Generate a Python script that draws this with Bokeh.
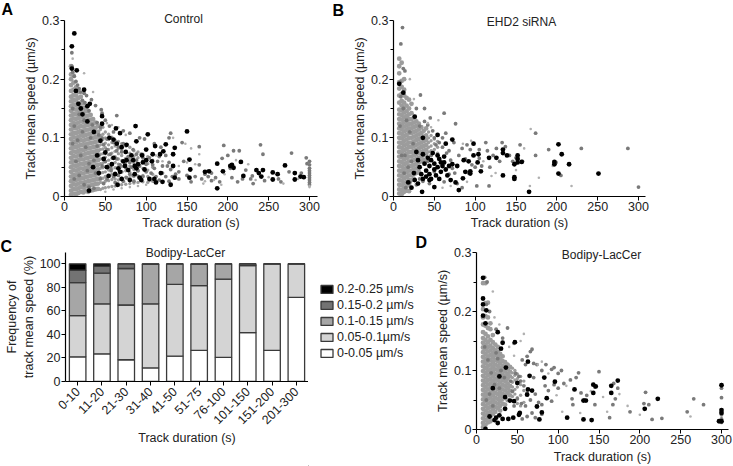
from bokeh.plotting import figure
from bokeh.layouts import column, row
from bokeh.embed import file_html
from bokeh.resources import INLINE
from bokeh.models import (FixedTicker, Range1d, FactorRange, Label, Legend, LegendItem,
                          ColumnDataSource)

FONT = "Liberation Sans"

# Panel C
DURATIONS = ["0-10", "11-20", "21-30", "31-40", "41-50", "51-75", "76-100", "101-150", "151-200", "201-300"]
BIN_0_005 = [21, 23.5, 18.5, 11.5, 21.5, 26.5, 20.5, 41.5, 26.5, 71.5]
BIN_005_01 = [35, 42.5, 46.5, 54.5, 61, 55, 66.5, 57, 73.5, 28.5]
BIN_01_015 = [28, 26, 31, 33.5, 17.5, 18, 13, 1.5, 0, 0]
BIN_015_02 = [10.5, 6, 4, 0.5, 0, 0.5, 0, 0, 0, 0]
BIN_02_025 = [5.5, 2, 0, 0, 0, 0, 0, 0, 0, 0]
BIN_LABELS = ["0-0.05 µm/s", "0.05-0.1µm/s", "0.1-0.15 µm/s", "0.15-0.2 µm/s", "0.2-0.25 µm/s"]
BIN_COLORS = ["#ffffff", "#d4d4d4", "#a6a6a6", "#737373", "#000000"]

# Scatter values: durations in s, speeds in thousandths of µm/s
A_MASS_X = [8, 11, 14, 17, 20, 23, 26, 29, 32, 35, 38, 41, 44, 47, 50, 54, 58, 62, 66, 70, 75, 80, 85, 90, 96, 102, 108]
A_MASS_Y = [
    [3,10,18,26,34,42,50,58,66,74,82,90,98,106,114,122,130,138,146,154,162,170,180,190,200,208,222],
    [5,13,21,29,37,45,53,61,69,77,85,93,101,109,117,125,133,141,149,157,165,173,182,194,206],
    [4,12,20,28,36,44,52,60,68,76,84,92,100,108,116,124,132,140,148,156,164,172,186],
    [6,14,22,30,38,46,54,62,70,78,86,94,102,110,118,126,134,142,150,158,168,178],
    [8,16,24,32,40,48,56,64,72,80,88,96,104,112,120,128,136,144,152,160,170],
    [7,15,23,31,39,47,55,63,71,79,87,95,103,111,119,127,135,143,151,159],
    [9,17,25,33,41,49,57,65,73,81,89,97,105,113,121,129,137,145,152],
    [8,18,26,34,42,50,58,66,74,82,90,98,106,114,122,130,138,146],
    [10,19,27,35,43,51,59,67,75,83,91,99,107,115,123,131,139],
    [11,20,28,36,44,52,60,68,76,84,92,100,108,116,124,132],
    [12,21,29,37,45,53,61,69,77,85,93,101,109,117,126],
    [13,22,30,38,46,54,62,70,78,86,94,102,110,120],
    [12,24,32,40,48,56,64,72,80,88,96,104,114],
    [14,23,31,41,49,57,65,73,81,89,97,106,118],
    [15,26,34,42,51,59,67,75,83,91,100,110],
    [16,27,36,45,54,62,71,80,88,97,106],
    [17,29,38,47,56,65,74,83,92,101],
    [18,30,40,49,58,68,77,86,96],
    [19,28,37,46,55,64,73,82,94],
    [20,31,42,51,61,70,80,90],
    [21,33,44,54,65,75,86],
    [22,32,41,52,63,74,84],
    [23,34,46,57,68,78],
    [24,35,44,55,66,76],
    [25,36,48,60,72],
    [24,34,45,56,68],
    [26,38,50,62],
]
A_DARK = [(9,245),(9,222),(10,212),(12,205),(14,196),(16,190),(20,178),(24,176),(27,172),(33,165),(38,155),(45,148),(46,142),(50,130),(64,138),(55,120),(60,110),(72,112),(80,108),(92,100),(98,98),(130,108),(128,100),(118,84),(110,90),(52,80),(56,72),(60,92),(64,64),(66,84),(70,76),(74,58),(78,68),(82,50),(84,80),(88,62),(90,44),(94,72),(96,34),(100,55),(104,66),(106,40),(110,48),(114,60),(116,28),(120,40),(124,70),(126,52),(128,26),(130,46),(132,34),(136,38),(140,42),(144,92),(146,60),(150,36),(160,34),(165,54),(165,85),(168,30),(172,38),(176,34),(180,40),(185,32),(195,87),(193,65),(200,70),(203,48),(207,78),(214,78),(218,30),(222,45),(228,30),(231,22),(240,88),(243,72),(262,30),(278,74),(296,66),(300,60),(300,54),(300,48),(300,44),(300,40),(300,36),(300,32),(300,28),(300,24),(300,20),(297,56),(290,40),(275,42),(265,25),(245,27),(230,35),(212,25),(205,32),(190,25),(180,27),(155,25),(140,30),(48,22),(52,30),(57,44),(62,24),(66,36),(70,42),(72,26),(76,32),(80,38),(85,26),(50,60),(46,100),(48,88),(44,118),(40,126),(42,105),(30,146),(25,160),(18,184),(22,164),(12,120),(16,96),(20,70),(24,130),(28,44),(32,100),(36,62),(40,86),(44,30),(14,60),(18,36),(22,110),(26,84),(30,56),(34,122),(38,40),(42,70),(46,52),(10,150),(10,90),(12,30),(18,140),(24,20),(30,16),(36,14),(52,98),(56,50),(60,34),(64,78),(68,54),(72,90),(76,48),(80,58),(84,36),(88,72),(92,52),(96,66),(100,42),(104,28),(108,54),(112,34),(116,68),(120,52),(124,34),(128,58)]
A_BLACK = [(12,278),(9,256),(15,215),(9,218),(24,182),(14,180),(31,158),(17,158),(28,154),(46,137),(46,124),(63,116),(87,120),(102,106),(150,111),(88,94),(111,86),(124,89),(135,83),(76,88),(60,97),(68,108),(153,63),(133,72),(121,77),(108,72),(154,46),(153,32),(187,56),(187,14),(177,43),(205,54),(194,43),(216,59),(207,49),(235,45),(243,45),(238,40),(241,34),(255,41),(255,29),(261,38),(270,53),(282,40),(282,29),(289,34),(293,33),(219,35),(203,52),(172,42),(133,52),(117,72),(100,80),(95,70),(90,55),(86,38),(80,28),(72,60),(68,42),(65,20),(58,55),(54,35),(50,75),(44,95),(40,70),(36,110),(28,128),(22,140),(20,150),(98,46),(104,30),(112,24),(120,25),(130,20),(107,60),(75,76),(64,90),(84,62),(92,32),(78,45),(55,100),(35,50),(30,10),(42,40),(118,40),(135,32),(60,66),(66,48),(70,30),(74,52),(82,70),(88,48),(94,28),(100,62),(62,38),(76,62),(86,52),(96,58),(110,30),(52,50),(48,64),(70,84)]
A_LIGHT = [(24,210),(10,235),(35,178),(52,125),(58,122),(66,118),(75,105),(133,100),(148,90),(155,82),(165,72),(172,26),(170,22),(183,28),(192,20),(196,38),(210,62),(225,55),(234,28),(250,33),(268,22),(286,30),(300,16),(300,18),(120,60),(112,70),(140,52),(150,58),(160,55),(175,44),(100,20),(90,18),(80,16),(70,14),(60,12),(50,8)]

B_MASS_X = [7, 10, 13, 16, 19, 22, 25, 28, 31, 34, 37, 40, 43, 46, 50, 54]
B_MASS_Y = [
    [5,12,20,28,36,44,52,60,68,76,84,92,100,108,116,124,132,140,148,160,172,184,195,210,222,235],
    [4,11,19,27,35,43,51,59,67,75,83,91,99,107,115,123,131,139,147,155,163,175,187,197,228],
    [8,15,23,31,39,47,55,63,71,79,87,95,103,111,119,127,135,143,151,160,172,182,200],
    [10,17,25,33,41,49,57,65,73,81,89,97,105,113,121,129,137,145,155,168],
    [9,20,28,36,44,52,60,68,76,84,92,100,108,116,124,132,140,150,165],
    [28,36,44,52,60,68,76,84,92,100,108,116,124,132,142,158],
    [30,38,46,54,62,70,78,86,94,102,110,118,126,134],
    [40,48,56,64,72,80,88,96,104,112,120,128],
    [42,50,58,66,74,82,90,98,106,114,124],
    [60,68,76,84,92,100,108,118],
    [62,70,78,86,94,102,112],
    [72,80,88,96,104,116],
    [76,84,92,100,110],
    [78,86,95,104],
    [80,90,98],
    [74,84,94],
]
B_DARK = [(11,288),(9,260),(12,218),(14,214),(8,195),(33,173),(38,150),(45,134),(38,128),(62,142),(15,15),(20,24),(28,20),(32,30),(36,26),(44,22),(50,100),(52,88),(56,92),(60,84),(64,108),(68,78),(70,62),(74,92),(80,70),(84,82),(88,64),(90,88),(92,40),(94,80),(96,54),(100,50),(105,80),(108,52),(113,92),(118,50),(122,70),(126,82),(130,60),(133,92),(137,85),(142,70),(155,88),(158,60),(174,108),(174,70),(190,80),(199,58),(205,36),(230,82),(287,82),(300,16),(117,18),(102,18),(75,40),(68,38),(84,15),(78,22),(62,25),(50,42),(46,70),(42,60),(105,65),(88,42),(60,100),(48,112),(42,122),(76,124),(65,74),(72,48),(150,66),(146,60),(115,78),(9,170),(12,150),(16,130),(20,110),(24,90),(28,150),(32,120),(14,70),(18,50),(22,60),(8,120),(10,70),(13,40)]
B_BLACK = [(12,177),(26,136),(7,192),(54,105),(72,97),(64,90),(98,90),(202,89),(206,72),(197,59),(197,55),(215,55),(202,39),(251,39),(166,8),(148,55),(152,70),(152,64),(152,58),(157,59),(134,80),(134,74),(139,70),(126,66),(117,66),(98,70),(104,72),(103,58),(107,43),(134,36),(148,33),(148,30),(94,43),(94,39),(88,42),(85,31),(80,11),(76,24),(50,16),(35,8),(22,15),(28,76),(30,62),(32,50),(34,38),(36,72),(38,56),(40,44),(40,34),(42,66),(44,52),(44,38),(46,62),(46,30),(48,74),(50,56),(50,46),(52,36),(54,70),(54,50),(56,64),(56,30),(58,58),(58,42),(60,52),(62,68),(62,58),(64,46),(66,36),(68,52),(70,28),(72,55),(36,100),(18,24),(26,28),(30,22),(25,40),(44,28),(36,30),(78,52),(86,62),(92,60)]
B_LIGHT = [(20,200),(25,166),(42,125),(46,118),(55,130),(95,95),(168,115),(167,18),(178,32),(195,52),(218,18),(160,82),(125,40),(120,35),(110,60),(150,45),(90,25),(70,18),(85,90),(60,15)]

D_MASS_X = [8, 11, 14, 17, 20, 23, 26, 29, 32, 35, 38, 41, 44, 47, 50, 54, 58]
D_MASS_Y = [
    [4,11,19,27,35,43,51,59,67,75,83,91,99,107,115,123,131,139,147,155,165,178,190,204,248],
    [8,16,24,32,40,48,56,64,72,80,88,96,104,112,120,128,136,144,152,162,176,192,214,248],
    [12,20,28,36,44,52,60,68,76,84,92,100,108,116,124,132,140,148,158,172,190,215],
    [14,22,30,38,46,54,62,70,78,86,94,102,110,118,126,134,142,152,170,180],
    [26,34,42,50,58,66,74,82,90,98,106,114,122,130,138,148,160],
    [30,38,46,54,62,70,78,86,94,102,110,118,126,134,144],
    [36,44,52,60,68,76,84,92,100,108,116,124,132,140],
    [32,40,48,56,64,72,80,88,96,104,112,120,128],
    [44,52,60,68,76,84,92,100,108,116,124],
    [42,58,66,74,82,90,98,106,114],
    [50,62,70,78,86,94,102,110],
    [58,66,74,90,98,106],
    [56,64,72,80,88,96,104],
    [60,68,84,92,100],
    [44,54,72,86,94],
    [40,58,76,90],
    [46,66,82],
]
D_DARK = [(38,172),(32,155),(24,170),(46,146),(62,124),(66,132),(68,136),(56,118),(60,110),(70,112),(74,110),(80,100),(85,110),(92,102),(95,105),(100,95),(104,100),(107,78),(115,84),(122,88),(125,96),(150,98),(145,72),(173,70),(168,78),(128,62),(135,58),(117,52),(118,42),(132,50),(145,42),(170,52),(163,20),(167,42),(188,30),(205,44),(211,42),(215,17),(227,19),(207,63),(258,30),(278,42),(266,52),(300,76),(300,70),(300,54),(300,30),(300,25),(300,18),(300,12),(297,14),(44,65),(48,95),(52,90),(54,82),(58,74),(62,62),(66,50),(70,88),(72,60),(76,46),(80,42),(84,74),(88,66),(92,48),(95,76),(100,70),(60,40),(55,44),(50,52),(46,40),(42,82),(68,28),(72,20),(80,26),(62,22),(56,18),(10,258),(13,250),(12,212),(16,200),(10,140),(14,118),(18,96),(22,76),(26,120),(30,100),(34,88),(16,60),(20,40),(24,130),(28,70),(12,50)]
D_BLACK = [(8,257),(8,222),(8,212),(12,202),(8,193),(11,180),(26,165),(32,147),(47,148),(30,137),(63,115),(65,91),(83,88),(96,81),(143,76),(146,73),(173,83),(165,74),(165,62),(143,62),(120,68),(134,49),(131,49),(131,17),(141,16),(111,20),(222,52),(206,35),(300,75),(300,33),(300,28),(297,14),(300,14),(86,53),(74,39),(80,29),(77,17),(52,25),(53,28),(45,20),(39,18),(26,11),(24,20),(28,24),(63,68),(68,66),(62,59),(50,79),(35,55),(35,35),(41,49),(11,1),(36,105),(28,90),(20,70),(16,22),(22,16),(46,48),(32,18)]
D_LIGHT = [(20,234),(22,190),(28,178),(58,162),(54,150),(75,110),(88,95),(98,58),(105,30),(140,65),(155,55),(185,40),(160,30),(175,60),(262,22),(200,25),(110,74),(127,28),(46,125),(40,140),(80,115)]


def speeds(values):
    return [v / 1000 for v in values]


def style(p, xstandoff=2):
    p.outline_line_color = None
    p.grid.visible = False
    for ax in (p.xaxis[0], p.yaxis[0]):
        ax.axis_line_color = "#000000"
        ax.axis_line_width = 1.2
        ax.major_tick_line_color = "#000000"
        ax.minor_tick_line_color = "#000000"
        ax.major_tick_in = 0
        ax.major_tick_out = 4
        ax.minor_tick_in = 0
        ax.minor_tick_out = 3
        ax.major_label_text_font = FONT
        ax.major_label_text_font_size = "12.5px"
        ax.major_label_text_color = "#222222"
        ax.major_label_standoff = 1
        ax.axis_label_text_font = FONT
        ax.axis_label_text_font_size = "12.5px"
        ax.axis_label_text_font_style = "normal"
        ax.axis_label_text_color = "#222222"
    p.xaxis[0].axis_label_standoff = xstandoff
    p.yaxis[0].axis_label_standoff = 1
    p.xaxis[0].minor_tick_out = 0


def add_text(p, text, x, y, place="above", size="12px", bold=False, align="center"):
    p.add_layout(Label(x=x, y=y, x_units="screen", y_units="screen", text=text, text_font=FONT,
                       text_font_size=size, text_font_style="bold" if bold else "normal",
                       text_color="#000000" if bold else "#222222", text_align=align,
                       text_baseline="middle"), place)


def scatter_panel(title, letter, mass_x, mass_y, dark, black, light, width, height,
                  left, right, top, bottom, title_x, title_y, letter_x, letter_y, xstandoff=2):
    frame_px = width - left - right
    p = figure(width=width, height=height, output_backend="svg", toolbar_location=None,
               x_range=Range1d(0, 300 * frame_px / 245), y_range=Range1d(0, 0.3),
               min_border_left=left, min_border_right=right, min_border_top=top, min_border_bottom=bottom)
    style(p, xstandoff)
    p.xaxis.ticker = FixedTicker(ticks=[0, 50, 100, 150, 200, 250, 300])
    p.yaxis.ticker = FixedTicker(ticks=[0, 0.1, 0.2, 0.3], minor_ticks=[0.05, 0.15, 0.25])
    p.yaxis.major_label_overrides = {0: "0", 0.1: "0.1", 0.2: "0.2", 0.3: "0.3"}
    p.xaxis.axis_label = "Track duration (s)"
    p.yaxis.axis_label = "Track mean speed (µm/s)"
    mx = [x for x, ys in zip(mass_x, mass_y) for _ in ys]
    my = [y for ys in mass_y for y in ys]
    msize = [4.8 if x < 42 else 3.4 for x in mx]
    p.scatter(mx, speeds(my), size=msize, color="#9c9c9c", line_color=None)
    p.scatter([d[0] for d in dark], speeds([d[1] for d in dark]), size=3.8, color="#7a7a7a", line_color=None)
    p.scatter([d[0] for d in light], speeds([d[1] for d in light]), size=2.6, color="#b0b0b0", line_color=None)
    p.scatter([d[0] for d in black], speeds([d[1] for d in black]), size=4.8, color="#000000", line_color=None)
    add_text(p, title, title_x, title_y)
    add_text(p, letter, letter_x, letter_y, place="left", size="16px", bold=True, align="left")
    return p


pa = scatter_panel("Control", "A", A_MASS_X, A_MASS_Y, A_DARK, A_BLACK, A_LIGHT, 333, 232, 64, 16, 20, 35, 119, 2, -8, 187)
pb = scatter_panel("EHD2 siRNA", "B", B_MASS_X, B_MASS_Y, B_DARK, B_BLACK, B_LIGHT, 400, 232, 60, 88, 20, 35, 128, -1, -6, 186)

pc = figure(width=308, height=234, output_backend="svg", toolbar_location=None,
            x_range=FactorRange(*DURATIONS, range_padding=0, factor_padding=0), y_range=Range1d(0, 109.6),
            min_border_left=65, min_border_right=0, min_border_top=20, min_border_bottom=85)
style(pc, 0)
pc.yaxis.ticker = FixedTicker(ticks=[0, 20, 40, 60, 80, 100])
pc.xaxis.major_label_orientation = 0.785
pc.xaxis.major_label_standoff = 4
pc.xaxis.axis_label = "Track duration (s)"
pc.yaxis.axis_label = "Frequency of\ntrack mean speed (%)"
src = ColumnDataSource(dict(d=DURATIONS, b0=BIN_0_005, b1=BIN_005_01, b2=BIN_01_015, b3=BIN_015_02, b4=BIN_02_025))
pc.vbar_stack(["b0", "b1", "b2", "b3", "b4"], x="d", width=0.68, source=src,
              color=BIN_COLORS, line_color="#3a3a3a", line_width=1.3)
add_text(pc, "Bodipy-LacCer", 120, 0)
add_text(pc, "C", -65, 219, place="below", size="16px", bold=True, align="left")

# the legend sits in a figure of its own, right of the bars; its keys lie outside the visible range
pl = figure(width=107, height=234, output_backend="svg", toolbar_location=None,
            x_axis_location=None, y_axis_location=None, min_border=0,
            x_range=Range1d(0, 1), y_range=Range1d(0, 1))
pl.outline_line_color = None
pl.grid.visible = False
swatches = [pl.vbar(x=[-5], bottom=[-5], top=[-4], width=1, color=c, line_color="#3a3a3a", line_width=1.3)
            for c in BIN_COLORS]
items = [LegendItem(label=lab, renderers=[r]) for lab, r in zip(BIN_LABELS, swatches)][::-1]
leg = Legend(items=items, location=(11, 106), padding=0, margin=0, border_line_color=None,
             background_fill_alpha=0, label_text_font=FONT, label_text_font_size="12.5px",
             label_text_color="#222222", glyph_width=15, glyph_height=10, label_standoff=3, spacing=2,
             label_height=14)
pl.add_layout(leg, "center")

pd_ = scatter_panel("Bodipy-LacCer", "D", D_MASS_X, D_MASS_Y, D_DARK, D_BLACK, D_LIGHT, 318, 234, 61, 5, 20, 36, 125, -2, -6, 187, xstandoff=3)

page = column(row(pa, pb), row(column(pc), column(pl), column(pd_)))
open("out.html", "w").write(file_html(page, INLINE))
